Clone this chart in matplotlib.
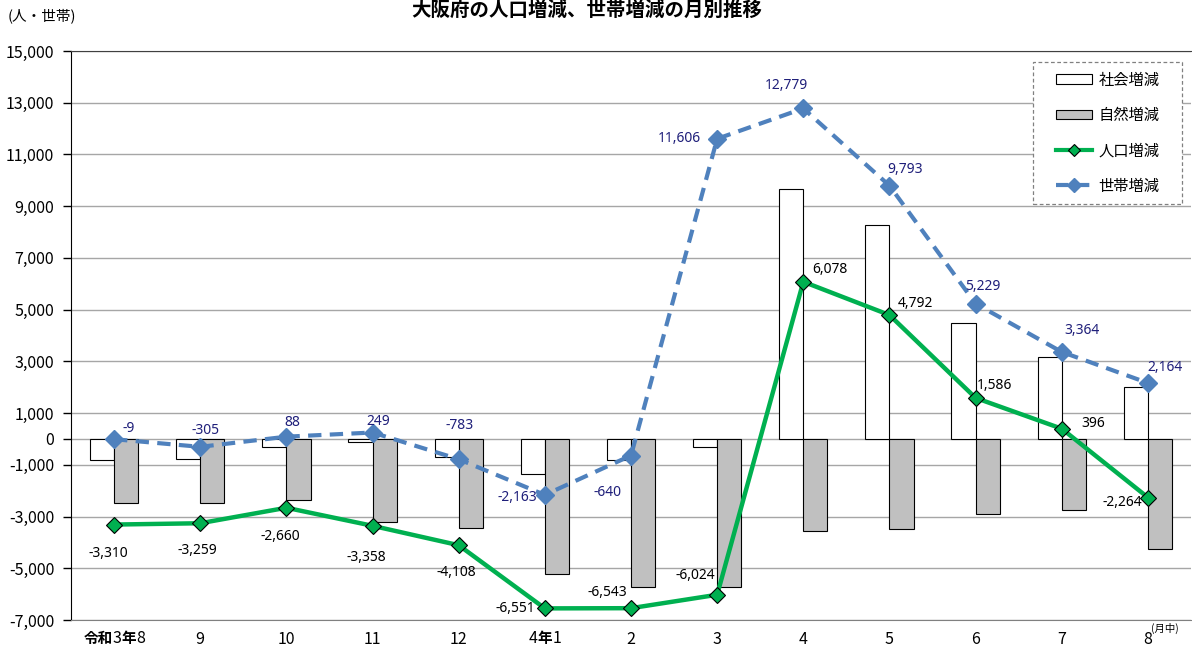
import matplotlib
matplotlib.use("Agg")
import matplotlib.pyplot as plt
from matplotlib.patches import Patch, Rectangle
from matplotlib.lines import Line2D
from matplotlib.offsetbox import TextArea, HPacker, AnnotationBbox
import numpy as np

# ---- data ----
months = ["令和3年8", "9", "10", "11", "12", "4年1", "2", "3", "4", "5", "6", "7", "8"]
social = [-820, -770, -300, -130, -680, -1340, -830, -300, 9650, 8290, 4480, 3150, 2000]
natural = [-2490, -2490, -2360, -3230, -3430, -5210, -5710, -5724, -3572, -3498, -2894, -2754, -4264]
population = [-3310, -3259, -2660, -3358, -4108, -6551, -6543, -6024, 6078, 4792, 1586, 396, -2264]
households = [-9, -305, 88, 249, -783, -2163, -640, 11606, 12779, 9793, 5229, 3364, 2164]
yticks = [-7000, -5000, -3000, -1000, 0, 1000, 3000, 5000, 7000, 9000, 11000, 13000, 15000]

# label offsets (pixels) for annotations
pop_off = [(-6, -29), (-3, -27), (-6, -29), (-6, -32), (-2, -27), (-30, 0), (-24, 16),
           (-22, 19), (27, 12), (26, 12), (19, 12), (31, 5), (-26, -5)]
hh_off = [(15, 11), (5, 16), (6, 14), (6, 11), (1, 34), (-28, -3), (-24, -37),
          (-38, 0), (-17, 23), (16, 16), (7, 17), (20, 21), (17, 15)]

CJK = ['Noto Sans CJK JP', 'DejaVu Sans']
NARROW = ['Liberation Sans Narrow', 'Noto Sans CJK JP', 'DejaVu Sans']
NUM = ['Noto Sans', 'DejaVu Sans']

W, H = 1192, 650
fig = plt.figure(figsize=(W/100, H/100), dpi=100)
ax = fig.add_axes([71/W, 30/H, 1120/W, 569/H])

x = np.arange(len(months))
w = 0.28
ax.bar(x - w/2, social, width=w, color='white', edgecolor='black', linewidth=0.8, zorder=2)
ax.bar(x + w/2, natural, width=w, color='#C0C0C0', edgecolor='black', linewidth=0.8, zorder=2)

ax.plot(x, households, color='#4F81BD', linewidth=3, linestyle=(0, (3.2, 2)),
        marker='D', markersize=9, markerfacecolor='#4F81BD', markeredgecolor='#4F81BD', zorder=3)
ax.plot(x, population, color='#00B050', linewidth=3.2,
        marker='D', markersize=8, markerfacecolor='#00B050', markeredgecolor='black',
        markeredgewidth=0.8, zorder=4)

for i in range(len(months)):
    ax.annotate(f"{population[i]:,}", (x[i], population[i]), xytext=pop_off[i],
                textcoords='offset pixels', ha='center', va='center',
                fontsize=10, family=NUM, color='black', zorder=5)
    ax.annotate(f"{households[i]:,}", (x[i], households[i]), xytext=hh_off[i],
                textcoords='offset pixels', ha='center', va='center',
                fontsize=10, family=NUM, color='#1F1F7A', zorder=5)

ax.set_xlim(-0.5, len(months) - 0.5)
ax.set_ylim(-7000, 15000)
ax.set_yticks(yticks)
ax.set_yticklabels([f"{v:,}" for v in yticks], family=NARROW, fontsize=11.5)
ax.yaxis.grid(True, color='#A6A6A6', linewidth=1)
ax.set_axisbelow(True)
ax.tick_params(axis='y', direction='out', length=6, width=1, pad=6)
ax.set_xticks(x)

# x tick labels: CJK parts bold, digits regular
import re
plain_labels = []
for i, m in enumerate(months):
    if re.search(r'[^\d]', m):
        plain_labels.append('')
        parts = re.findall(r'\d+|[^\d]+', m)
        children = []
        for p in parts:
            if p.isdigit():
                children.append(TextArea(p, textprops=dict(family=NARROW, fontsize=11.5)))
            else:
                children.append(TextArea(p, textprops=dict(family=CJK, fontsize=10.5,
                                                           fontweight='bold')))
        box = HPacker(children=children, sep=0, pad=0, align='baseline')
        ab = AnnotationBbox(box, (x[i], 0), xycoords=ax.get_xaxis_transform(),
                            xybox=(0, -7), boxcoords='offset points',
                            box_alignment=(0.5, 1), frameon=False, pad=0,
                            annotation_clip=False)
        ax.add_artist(ab)
    else:
        plain_labels.append(m)
ax.set_xticklabels(plain_labels, family=NARROW, fontsize=11.5)
ax.tick_params(axis='x', length=0, pad=8)

ax.spines['right'].set_visible(False)
ax.spines['left'].set_color('black')
ax.spines['top'].set_color('#404040')
ax.spines['bottom'].set_color('#808080')

# legend box (dashed frame)
def px2ax(px, py):
    return ((px - 71) / 1120, (620 - py) / 569)

x0, y0 = px2ax(1033, 204)
x1, y1 = px2ax(1182, 62)
ax.add_patch(Rectangle((x0, y0), x1 - x0, y1 - y0, transform=ax.transAxes,
                       facecolor='white', edgecolor='#808080', linewidth=0.9,
                       linestyle=(0, (3, 2)), zorder=6))

handles = [Patch(facecolor='white', edgecolor='black', linewidth=0.8),
           Patch(facecolor='#C0C0C0', edgecolor='black', linewidth=0.8),
           Line2D([], [], color='#00B050', linewidth=3, marker='D', markersize=6,
                  markerfacecolor='#00B050', markeredgecolor='black', markeredgewidth=0.8),
           Line2D([], [], color='#4F81BD', linewidth=3, linestyle=(0, (3, 2)), marker='D',
                  markersize=7, markerfacecolor='#4F81BD', markeredgecolor='#4F81BD')]
labels = ['社会増減', '自然増減', '人口増減', '世帯増減']
leg = ax.legend(handles, labels, loc='center', bbox_to_anchor=((x0 + x1) / 2, (y0 + y1) / 2),
                borderaxespad=0, prop={'family': CJK, 'size': 11}, handlelength=2.4,
                handleheight=0.6, labelspacing=1.2, borderpad=0.2, handletextpad=0.4,
                frameon=False)
leg.set_zorder(7)

fig.text(0.492, 1 - 1/H, "大阪府の人口増減、世帯増減の月別推移", ha='center', va='top',
         fontsize=14, fontweight='bold', family=CJK)
fig.text(8/W, 1 - 16/H, "(人・世帯)", ha='left', va='center', fontsize=10.5, family=CJK)
fig.text(1165/W, 1 - 628/H, "(月中)", ha='center', va='center', fontsize=7.5, family=CJK)

fig.savefig("out.png", dpi=100)
